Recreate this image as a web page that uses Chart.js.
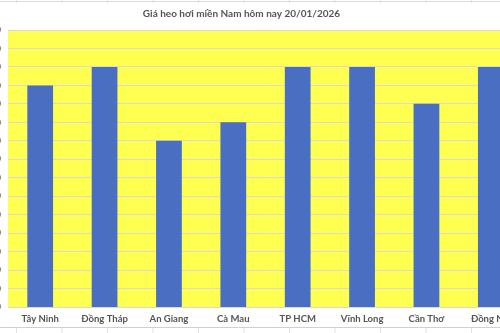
<!DOCTYPE html>
<html>
<head>
<meta charset="utf-8">
<script src="https://cdn.jsdelivr.net/npm/chart.js@4.4.1/dist/chart.umd.min.js"></script>
<style>
  html, body { margin: 0; padding: 0; }
  body {
    width: 500px; height: 333px; overflow: hidden; position: relative;
    background-color: #ffffff;
    background-image:
      linear-gradient(to bottom, transparent 1px, #dcdcdc 1px, #dcdcdc 2px, transparent 2px),
      linear-gradient(to bottom, transparent 327px, #d0d0d0 327px, #d0d0d0 328px, transparent 328px),
      linear-gradient(to right, #e2e2e2 1px, transparent 1px);
    background-size: 100% 100%, 100% 100%, 45.5px 100%;
    background-position: 0 0, 0 0, 16px 0;
  }
  #wrap {
    position: absolute; left: -40px; top: 3px; width: 580px; height: 324px;
    background: #ffffff;
  }
</style>
</head>
<body>
<div id="wrap"><canvas id="c" width="580" height="324"></canvas></div>
<script>
const titleText = "Giá heo hơi miền Nam hôm nay 20/01/2026";
const categories = ["Tây Ninh", "Đồng Tháp", "An Giang", "Cà Mau", "TP HCM", "Vĩnh Long", "Cần Thơ", "Đồng Nai"];
const prices = [62000, 63000, 59000, 60000, 63000, 63000, 61000, 63000];
const yMin = 50000;
const yMax = 65000;
const yStep = 1000;

const plotBg = {
  id: 'plotBg',
  beforeDraw(chart) {
    const a = chart.chartArea, ctx = chart.ctx;
    ctx.save();
    ctx.fillStyle = '#FFFF52';
    ctx.fillRect(a.left, a.top, a.right - a.left, a.bottom - a.top);
    ctx.restore();
  }
};

new Chart(document.getElementById('c'), {
  type: 'bar',
  data: {
    labels: categories,
    datasets: [{
      data: prices,
      backgroundColor: '#4A6EC2',
      borderWidth: 0,
      categoryPercentage: 1.0,
      barPercentage: 0.4
    }]
  },
  options: {
    responsive: false,
    animation: false,
    layout: { padding: { left: 0, right: 17, top: 0, bottom: 0 } },
    plugins: {
      legend: { display: false },
      tooltip: { enabled: false },
      title: {
        display: true,
        text: titleText,
        color: '#555555',
        font: { family: 'Lato', size: 10, weight: 'bold', lineHeight: 1.3 },
        padding: { top: 4, bottom: 10 }
      }
    },
    scales: {
      x: {
        grid: { display: false, drawTicks: false },
        border: { display: false },
        ticks: { color: '#555555', font: { family: 'Lato', size: 9.5, weight: 'bold' }, padding: 6, maxRotation: 0, autoSkip: false },
        afterFit(s) { s.height = 20; }
      },
      y: {
        min: yMin, max: yMax,
        grid: { color: '#D9D9D9', lineWidth: 1, drawTicks: false },
        border: { display: false },
        ticks: {
          stepSize: yStep, padding: 7, color: '#595959',
          font: { family: 'Lato', size: 10 },
          callback: v => v.toLocaleString('vi-VN')
        },
        afterFit(s) { s.width = 48; }
      }
    }
  },
  plugins: [plotBg]
});
</script>
</body>
</html>
